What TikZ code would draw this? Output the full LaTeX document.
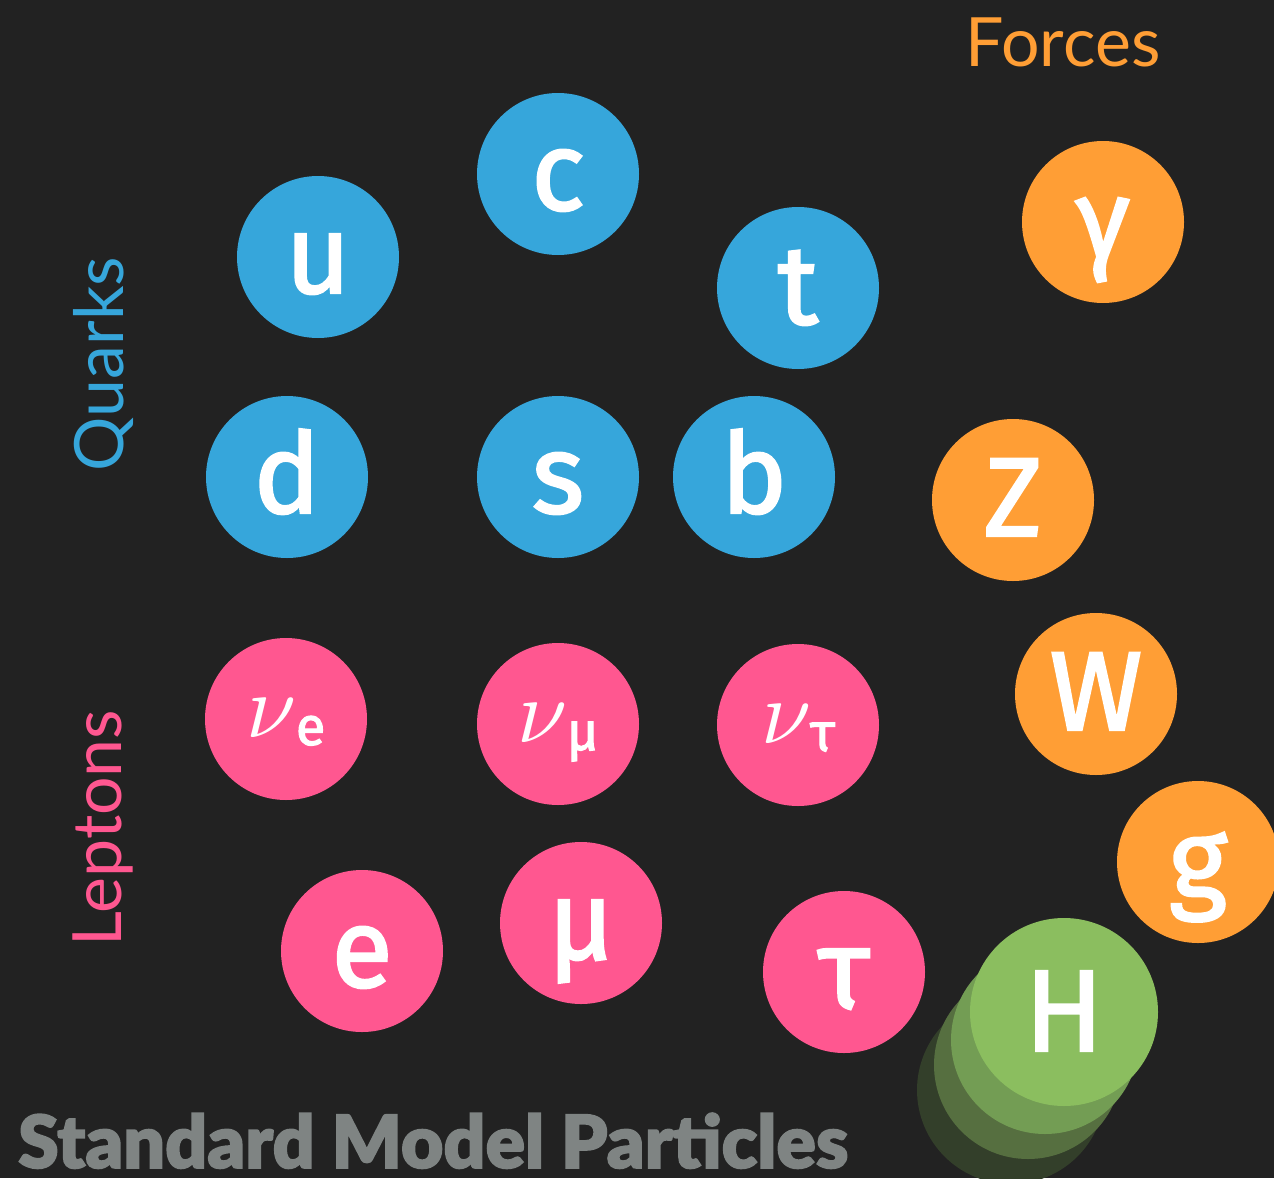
\documentclass[tikz,border=0pt]{standalone}
\usepackage{fontspec}
\usepackage{graphicx}
\setmainfont{Fira Sans}
\newfontfamily\partfont{Fira Sans}[FakeBold=2]
\newfontfamily\labfont{Lato}
\newfontfamily\titlefont{Lato Black}[FakeBold=2]
\definecolor{bg}{HTML}{222222}
\definecolor{quark}{HTML}{36A6DB}
\definecolor{lepton}{HTML}{FF5790}
\definecolor{force}{HTML}{FF9E35}
\definecolor{higgs}{HTML}{8BBE5F}
\definecolor{ghostA}{HTML}{739D54}
\definecolor{ghostB}{HTML}{566F40}
\definecolor{ghostC}{HTML}{333F2A}
\definecolor{titlegray}{HTML}{7F8483}
\tikzset{
  particle/.style={circle, minimum size=162pt, inner sep=0pt, text=white,
    text height=72pt, text depth=0pt,
    font=\partfont\fontsize{112}{112}\selectfont},
  neutrino/.style={particle, text height=36pt},
  bigparticle/.style={particle, minimum size=188pt, text height=78pt,
    font=\partfont\fontsize{116}{116}\selectfont},
  ghost/.style={circle, minimum size=188pt, inner sep=0pt},
  grouplabel/.style={font=\labfont\fontsize{68}{68}\selectfont}
}
\newcommand{\neut}[1]{{\fontsize{10}{12}\selectfont\scalebox{9}{$\nu$}}\hspace{-1pt}\raisebox{-8pt}{\fontsize{54}{54}\selectfont #1}}
\begin{document}
\begin{tikzpicture}[x=1pt,y=-1pt]
\fill[bg] (0,0) rectangle (1274,1178);
\useasboundingbox (0,0) rectangle (1274,1178);
% group labels
\node[grouplabel, text=force] (forces) at (1063,42) {Forces};
\node[grouplabel, text=quark, rotate=90] (quarks) at (103,364) {Quarks};
\node[grouplabel, text=lepton, rotate=90] (leptons) at (103,828) {Leptons};
% quarks
\node[particle, fill=quark] (u) at (318,257) {u};
\node[particle, fill=quark] (c) at (558,174) {c};
\node[particle, fill=quark] (t) at (798,288) {t};
\node[particle, fill=quark] (d) at (287,477) {d};
\node[particle, fill=quark] (s) at (558,477) {s};
\node[particle, fill=quark] (b) at (754,477) {b};
% leptons
\node[neutrino, fill=lepton] (ne) at (286,719) {\neut{e}};
\node[neutrino, fill=lepton] (nm) at (558,724) {\neut{μ}};
\node[neutrino, fill=lepton] (nt) at (798,725) {\neut{τ}};
\node[particle, fill=lepton] (e) at (362,951) {e};
\node[particle, fill=lepton] (mu) at (581,923) {μ};
\node[particle, fill=lepton] (tau) at (844,972) {τ};
% forces
\node[particle, fill=force] (gamma) at (1103,222) {γ};
\node[particle, fill=force] (Z) at (1013,500) {Z};
\node[particle, fill=force] (W) at (1096,694) {W};
\node[particle, fill=force] (g) at (1198,862) {g};
% higgs with ghosts
\node[ghost, fill=ghostC] (h3) at (1011,1090) {};
\node[ghost, fill=ghostB] (h2) at (1028,1065) {};
\node[ghost, fill=ghostA] (h1) at (1045,1040) {};
\node[bigparticle, fill=higgs] (H) at (1064,1012) {H};
% title
\node[anchor=base west, inner sep=0pt, text=titlegray] (title) at (18,1168)
  {\resizebox{830pt}{!}{\titlefont Standard Model Particles}};
\end{tikzpicture}
\end{document}
